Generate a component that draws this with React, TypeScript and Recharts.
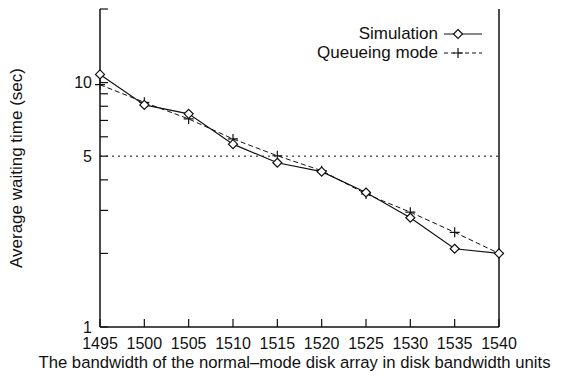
import { LineChart, Line, XAxis, YAxis, ReferenceLine } from 'recharts';

// bandwidth of the normal-mode disk array (disk bandwidth units)
const bandwidth = [1495, 1500, 1505, 1510, 1515, 1520, 1525, 1530, 1535, 1540];
const simulation = [10.8, 8.1, 7.45, 5.6, 4.7, 4.32, 3.55, 2.8, 2.09, 2.0];
const queueing = [9.8, 8.3, 7.1, 5.88, 5.02, 4.36, 3.5, 2.95, 2.44, 2.0];

const xTicks = [1495, 1500, 1505, 1510, 1515, 1520, 1525, 1530, 1535, 1540];
const yTicks = [1, 2, 3, 4, 5, 6, 7, 8, 9, 10, 20];
const yLabels = [1, 5, 10];

const data = bandwidth.map((b, i) => ({ b, sim: simulation[i], queue: queueing[i] }));

const FONT = '"Liberation Sans", Arial, Helvetica, sans-serif';

const Diamond = (props: any) => {
  const { cx, cy } = props;
  if (cx == null || cy == null) return null;
  const r = 4.5;
  return (
    <path
      d={`M${cx},${cy - r} L${cx + r},${cy} L${cx},${cy + r} L${cx - r},${cy} Z`}
      fill="#fff"
      stroke="#111"
      strokeWidth={1.2}
    />
  );
};

const Plus = (props: any) => {
  const { cx, cy } = props;
  if (cx == null || cy == null) return null;
  const r = 5;
  return (
    <path d={`M${cx - r},${cy} H${cx + r} M${cx},${cy - r} V${cy + r}`} stroke="#111" strokeWidth={1.2} fill="none" />
  );
};

// legend drawn over the plot, top right like the original
const LegendBox = () => (
  <div
    style={{
      position: 'absolute',
      top: 24,
      right: 81,
      fontFamily: FONT,
      fontSize: 17,
      color: '#111',
      lineHeight: '19px',
    }}
  >
    {[
      { name: 'Simulation', dash: undefined, mark: 'diamond' },
      { name: 'Queueing mode', dash: '4 3', mark: 'plus' },
    ].map((it) => (
      <div key={it.name} style={{ display: 'flex', justifyContent: 'flex-end', alignItems: 'center', height: 19 }}>
        <span>{it.name}</span>
        <svg width={42} height={18} style={{ marginLeft: 4 }}>
          <line x1={2} y1={9} x2={40} y2={9} stroke="#111" strokeWidth={1} strokeDasharray={it.dash} />
          {it.mark === 'diamond' ? <Diamond cx={16} cy={9} /> : <Plus cx={16} cy={9} />}
        </svg>
      </div>
    ))}
  </div>
);

export default function App() {
  return (
    <div style={{ position: 'absolute', left: 0, top: 0, width: 565, height: 376, background: '#fff' }}>
      <LineChart width={565} height={376} data={data} margin={{ top: 9, right: 0, bottom: 0, left: 0 }}>
        <XAxis
          dataKey="b"
          type="number"
          domain={[1495, 1540]}
          ticks={xTicks}
          interval={0}
          axisLine={{ stroke: '#111', strokeWidth: 1.5 }}
          tickLine={{ stroke: '#111', strokeWidth: 1.2 }}
          tickSize={-8}
          tickMargin={19}
          height={49}
          tick={{ fill: '#111', fontSize: 16, fontFamily: FONT }}
          label={{
            value: 'The bandwidth of the normal\u2013mode disk array in disk bandwidth units',
            position: 'insideBottom',
            offset: 8,
            dx: -5,
            fill: '#111',
            fontSize: 16.7,
            fontFamily: FONT,
          }}
        />
        <XAxis
          xAxisId="top"
          orientation="top"
          dataKey="b"
          type="number"
          domain={[1495, 1540]}
          ticks={xTicks}
          interval={0}
          height={0}
          axisLine={{ stroke: '#111', strokeWidth: 1.5 }}
          tickLine={{ stroke: '#111', strokeWidth: 1.2 }}
          tickSize={-8}
          tick={false}
        />
        <YAxis
          scale="log"
          type="number"
          domain={[1, 20]}
          allowDataOverflow
          ticks={yTicks}
          interval={0}
          width={100}
          axisLine={{ stroke: '#111', strokeWidth: 1.5 }}
          tickLine={{ stroke: '#111', strokeWidth: 1.2 }}
          tickSize={-8}
          tickMargin={16}
          tickFormatter={(v: number) => (yLabels.includes(v) ? String(v) : '')}
          tick={{ fill: '#111', fontSize: 16, fontFamily: FONT }}
          label={{
            value: 'Average waiting time (sec)',
            angle: -90,
            position: 'insideLeft',
            offset: 16,
            style: { textAnchor: 'middle' },
            fill: '#111',
            fontSize: 17,
            fontFamily: FONT,
          }}
        />
        <YAxis
          yAxisId="right"
          orientation="right"
          scale="log"
          type="number"
          domain={[1, 20]}
          allowDataOverflow
          ticks={yTicks}
          interval={0}
          width={66}
          axisLine={{ stroke: '#111', strokeWidth: 1.5 }}
          tickLine={{ stroke: '#111', strokeWidth: 1.2 }}
          tickSize={-8}
          tick={false}
        />
        <ReferenceLine y={5} stroke="#111" strokeWidth={1} strokeDasharray="2 4" />
        <Line
          dataKey="queue"
          stroke="#111"
          strokeWidth={1}
          strokeDasharray="5 3"
          dot={<Plus />}
          isAnimationActive={false}
        />
        <Line
          dataKey="sim"
          stroke="#111"
          strokeWidth={1.2}
          dot={<Diamond />}
          isAnimationActive={false}
        />
      </LineChart>
      <LegendBox />
    </div>
  );
}
